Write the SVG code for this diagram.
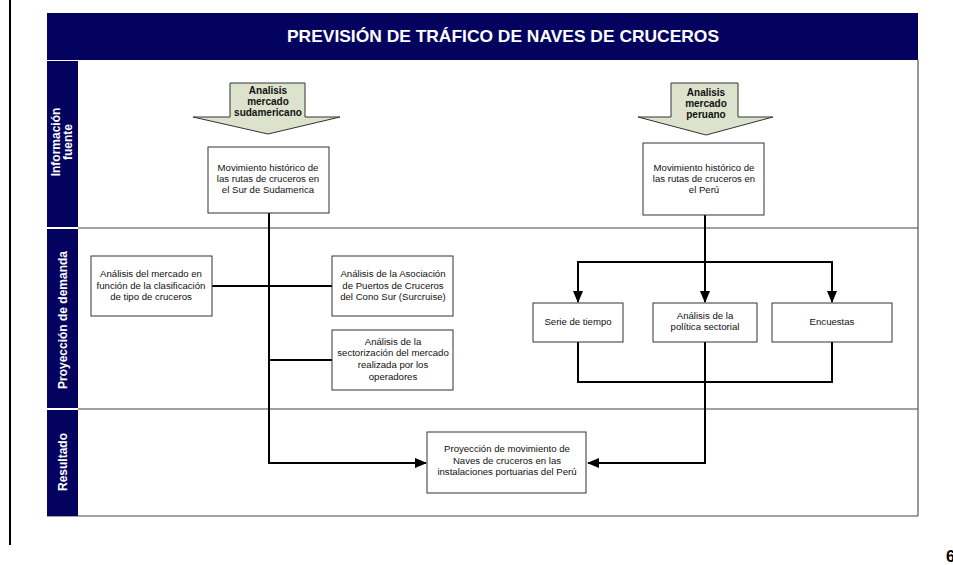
<svg xmlns="http://www.w3.org/2000/svg" width="953" height="565" viewBox="0 0 953 565">
<defs>
<style>
.lane{fill:#03035f}
.lt{fill:#fff;font-family:"Liberation Sans",Arial,sans-serif;font-weight:bold;font-size:12px;text-anchor:middle}
.box{fill:#fff;stroke:#333;stroke-width:1}
.bt{fill:#111;font-family:"Liberation Sans",Arial,sans-serif;font-size:9.6px;text-anchor:middle}
.at{fill:#111;font-family:"Liberation Sans",Arial,sans-serif;font-size:10px;font-weight:bold;text-anchor:middle}
.arr{fill:#dde2cc;stroke:#333;stroke-width:1}
.div{stroke:#444;stroke-width:1}
.c{fill:none;stroke:#000;stroke-width:2}
</style>
<marker id="ah" markerUnits="userSpaceOnUse" markerWidth="12" markerHeight="10" refX="11" refY="5" orient="auto">
<path d="M0,0 L12,5 L0,10 Z" fill="#000"/>
</marker>
</defs>
<rect width="953" height="565" fill="#fff"/>
<line x1="10" y1="0" x2="10" y2="545" stroke="#000" stroke-width="2"/>
<g id="frame">
<rect x="47" y="13" width="871" height="47" class="lane"/>
<text x="503" y="42" fill="#fff" font-family="'Liberation Sans',Arial,sans-serif" font-size="17" font-weight="bold" text-anchor="middle" textLength="432" lengthAdjust="spacingAndGlyphs">PREVISIÓN DE TRÁFICO DE NAVES DE CRUCEROS</text>
<line x1="918" y1="60" x2="918" y2="516" stroke="#777" stroke-width="1.5"/>
<line x1="47" y1="516" x2="918" y2="516" class="div" stroke-width="1.5"/>
<line x1="78" y1="228" x2="918" y2="228" class="div"/>
<line x1="78" y1="409" x2="918" y2="409" class="div"/>
</g>
<g id="lane-info">
<rect x="47" y="61" width="31" height="166" class="lane"/>
<text class="lt" transform="translate(60,142) rotate(-90)">Información</text>
<text class="lt" transform="translate(72,142) rotate(-90)">fuente</text>
</g>
<g id="lane-proy">
<rect x="47" y="229" width="31" height="179" class="lane"/>
<text class="lt" transform="translate(67,320) rotate(-90)">Proyección de demanda</text>
</g>
<g id="lane-res">
<rect x="47" y="410" width="31" height="106" class="lane"/>
<text class="lt" transform="translate(67,462) rotate(-90)">Resultado</text>
</g>
<g id="connectors">
<path class="c" d="M269,213 V463 H426" marker-end="url(#ah)"/>
<path class="c" d="M212,286 H332"/>
<path class="c" d="M269,360 H332"/>
<path class="c" d="M705,215 V302" marker-end="url(#ah)"/>
<path class="c" d="M578,302 V262 H832 V302" />
<path class="c" d="M578,263 V302" marker-end="url(#ah)"/>
<path class="c" d="M832,263 V302" marker-end="url(#ah)"/>
<path class="c" d="M578,342 V382 H832 V342"/>
<path class="c" d="M705,342 V463 H588" marker-end="url(#ah)"/>
</g>
<g id="arrow-sud">
<path class="arr" d="M230,83 H305 V117 H340 L268,134 L193,117 H230 Z"/>
<text class="at" x="268" y="94">Analisis</text>
<text class="at" x="268" y="105">mercado</text>
<text class="at" x="268" y="116">sudamericano</text>
</g>
<g id="arrow-per">
<path class="arr" d="M671,83 H738 V117 H773 L706,135 L638,117 H671 Z"/>
<text class="at" x="706" y="96">Analisis</text>
<text class="at" x="706" y="107">mercado</text>
<text class="at" x="706" y="118">peruano</text>
</g>
<g id="box-sur">
<rect class="box" x="208" y="147" width="121" height="66"/>
<text class="bt" x="268" y="171">Movimiento histórico de</text>
<text class="bt" x="268" y="182">las rutas de cruceros en</text>
<text class="bt" x="268" y="193">el Sur de Sudamerica</text>
</g>
<g id="box-peru">
<rect class="box" x="643" y="143" width="121" height="72"/>
<text class="bt" x="704" y="171">Movimiento histórico de</text>
<text class="bt" x="704" y="182">las rutas de cruceros en</text>
<text class="bt" x="704" y="193">el Perú</text>
</g>
<g id="box-clasif">
<rect class="box" x="91" y="256" width="121" height="60"/>
<text class="bt" x="151" y="277">Análisis del mercado en</text>
<text class="bt" x="151" y="289">función de la clasificación</text>
<text class="bt" x="151" y="300">de tipo de cruceros</text>
</g>
<g id="box-surcruise">
<rect class="box" x="332" y="256" width="121" height="60"/>
<text class="bt" x="393" y="277">Análisis de la Asociación</text>
<text class="bt" x="393" y="289">de Puertos de Cruceros</text>
<text class="bt" x="393" y="300">del Cono Sur (Surcruise)</text>
</g>
<g id="box-sector">
<rect class="box" x="332" y="330" width="121" height="60"/>
<text class="bt" x="393" y="345">Análisis de la</text>
<text class="bt" x="393" y="356">sectorización del mercado</text>
<text class="bt" x="393" y="368">realizada por los</text>
<text class="bt" x="393" y="380">operadores</text>
</g>
<g id="box-serie">
<rect class="box" x="533" y="303" width="90" height="39"/>
<text class="bt" x="578" y="325">Serie de tiempo</text>
</g>
<g id="box-politica">
<rect class="box" x="653" y="303" width="104" height="39"/>
<text class="bt" x="705" y="319">Análisis de la</text>
<text class="bt" x="705" y="330">política sectorial</text>
</g>
<g id="box-encuestas">
<rect class="box" x="772" y="303" width="120" height="39"/>
<text class="bt" x="832" y="325">Encuestas</text>
</g>
<g id="box-result">
<rect class="box" x="427" y="432" width="159" height="61"/>
<text class="bt" x="507" y="452">Proyección de movimiento de</text>
<text class="bt" x="507" y="464">Naves de cruceros  en las</text>
<text class="bt" x="507" y="475">instalaciones portuarias del Perú</text>
</g>
<text x="946" y="562" font-family="'Liberation Sans',Arial,sans-serif" font-size="16" font-weight="bold" fill="#000">6</text>
</svg>
